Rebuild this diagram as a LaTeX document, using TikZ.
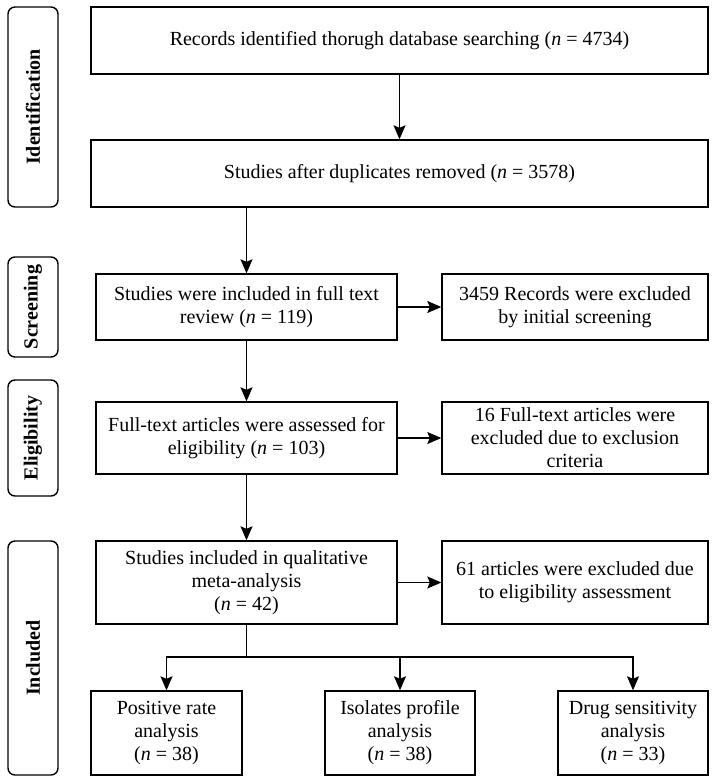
\documentclass[tikz,border=0pt]{standalone}
\usepackage{fontspec}
\setmainfont{Liberation Serif}
\usetikzlibrary{arrows.meta}
\usetikzlibrary{positioning}
\tikzset{stepbox/.style={rectangle,draw=black,line width=1.4pt,align=center,inner sep=2pt,font=\fontsize{20}{23}\selectfont}}
\tikzset{phase/.style={rectangle,rounded corners=7pt,draw=black,line width=1.4pt,rotate=90,minimum height=50pt,inner sep=0pt,font=\fontsize{20}{23}\selectfont\bfseries}}
\tikzset{flow/.style={line width=1.4pt,-{Stealth[length=14pt,width=12pt,inset=2.5pt]}}}

\begin{document}
\begin{tikzpicture}[x=1pt,y=-1pt]
\useasboundingbox (0,0) rectangle (717,782);

% phase labels on the left
\node[phase,minimum width=200pt] (idlab) at (33,107) {Identification};
\node[phase,minimum width=100pt] (scrlab) at (33,307) {Screening};
\node[phase,minimum width=116pt] (elilab) at (33,438) {Eligibility};
\node[phase,minimum width=234pt] (inclab) at (33,658) {Included};

% main column
\node[stepbox,minimum width=617pt,minimum height=67pt] (records) at (399.5,40.5)
  {Records identified thorugh database searching (\textit{n} = 4734)};
\node[stepbox,minimum width=617pt,minimum height=67pt] (dups) at (399.5,173.5)
  {Studies after duplicates removed (\textit{n} = 3578)};
\node[stepbox,minimum width=301pt,minimum height=66pt] (fulltext) at (246.5,307)
  {Studies were included in full text\\review (\textit{n} = 119)};
\node[stepbox,minimum width=301pt,minimum height=72pt] (assessed) at (246.5,438)
  {Full-text articles were assessed for\\eligibility (\textit{n} = 103)};
\node[stepbox,minimum width=301pt,minimum height=83pt] (qual) at (246.5,582.5)
  {Studies included in qualitative\\meta-analysis\\(\textit{n} = 42)};

% excluded column
\node[stepbox,minimum width=266pt,minimum height=66pt] (excl1) at (575,307)
  {3459 Records were excluded\\by initial screening};
\node[stepbox,minimum width=266pt,minimum height=72pt] (excl2) at (575,438)
  {16 Full-text articles were\\excluded due to exclusion\\criteria};
\node[stepbox,minimum width=266pt,minimum height=83pt] (excl3) at (575,582.5)
  {61 articles were excluded due\\to eligibility assessment};

% analyses
\node[stepbox,minimum width=151pt,minimum height=84pt] (posrate) at (166.5,733)
  {Positive rate\\analysis\\(\textit{n} = 38)};
\node[stepbox,minimum width=150pt,minimum height=84pt] (isolates) at (400,733)
  {Isolates profile\\analysis\\(\textit{n} = 38)};
\node[stepbox,minimum width=150pt,minimum height=84pt] (drug) at (633,733)
  {Drug sensitivity\\analysis\\(\textit{n} = 33)};

% arrows
\draw[flow] (records) -- (dups);
\draw[flow] (dups.south -| fulltext.north) -- (fulltext.north);
\draw[flow] (fulltext) -- (assessed);
\draw[flow] (assessed) -- (qual);
\draw[flow] (fulltext) -- (excl1);
\draw[flow] (assessed) -- (excl2);
\draw[flow] (qual) -- (excl3);

\coordinate (split) at (246.5,657);
\draw[line width=1.4pt] (qual.south) -- (split);
\draw[flow] (split) -| (posrate.north);
\draw[flow] (split) -| (isolates.north);
\draw[flow] (split) -| (drug.north);
\end{tikzpicture}
\end{document}
